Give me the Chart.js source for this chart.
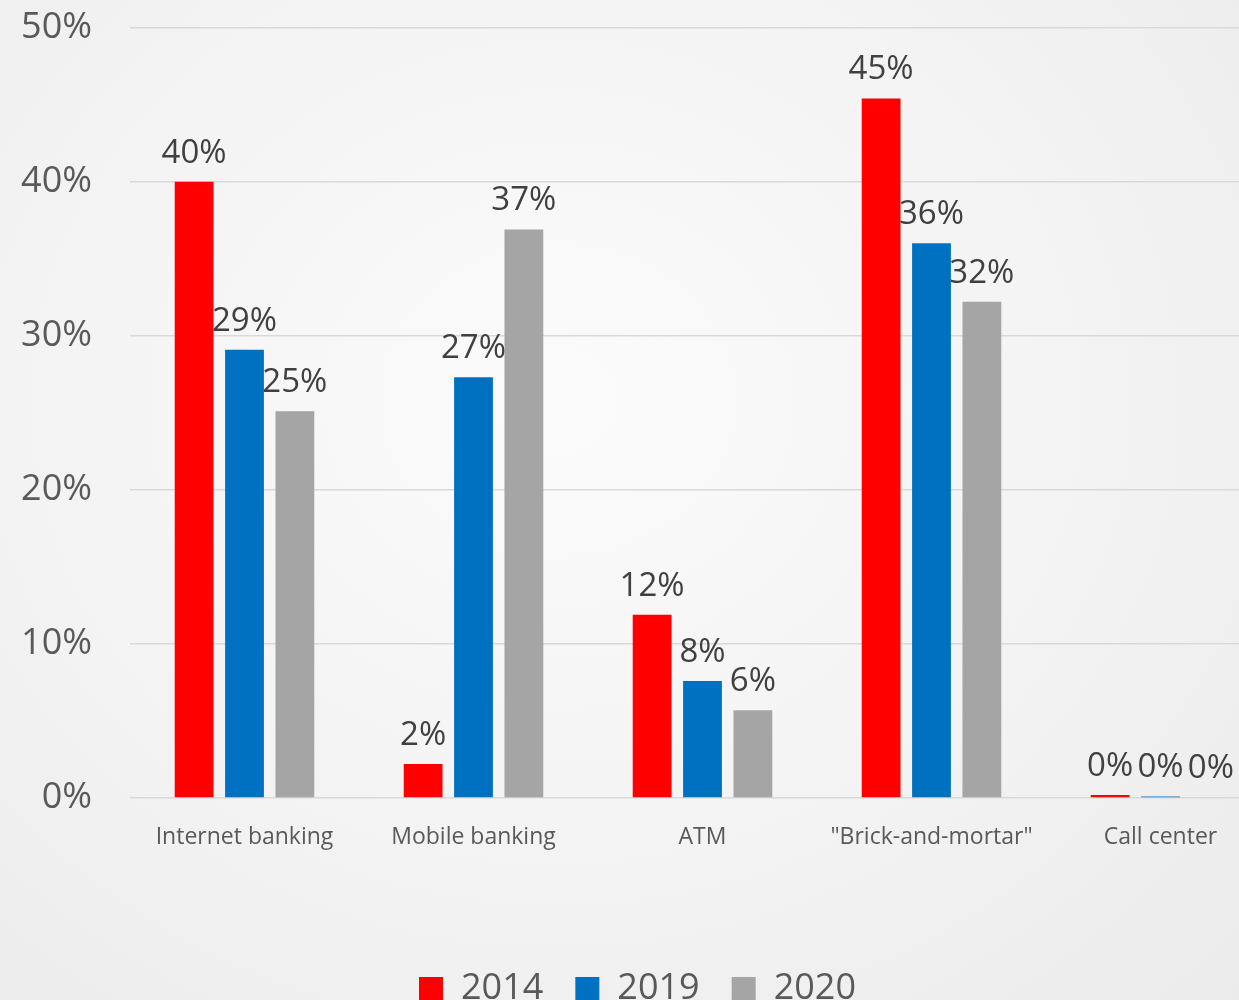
<!DOCTYPE html>
<html>
<head>
<meta charset="utf-8">
<script src="https://cdn.jsdelivr.net/npm/chart.js@4.4.1/dist/chart.umd.min.js"></script>
<style>
  html, body { margin: 0; padding: 0; overflow: hidden; }
  body {
    width: 1239px; height: 1000px;
    background: radial-gradient(ellipse at 45% 40%, #fbfbfb 0%, #f3f3f4 55%, #ebebec 100%);
  }
  #wrap { position: absolute; left: 0; top: -32px; width: 1290px; height: 1049px; }
</style>
</head>
<body>
<div id="wrap"><canvas id="chart" width="1290" height="1049"></canvas></div>
<script>
// chart data
const categories = ['Internet banking', 'Mobile banking', 'ATM', '"Brick-and-mortar"', 'Call center'];
const years = ['2014', '2019', '2020'];
const values2014 = [40, 2.2, 11.9, 45.4, 0.2];
const values2019 = [29.1, 27.3, 7.6, 36.0, 0.1];
const values2020 = [25.1, 36.9, 5.7, 32.2, 0.05];
const yTicks = [0, 10, 20, 30, 40, 50];

const colors = ['#ff0000', '#0070c0', '#a5a5a5'];
const textColor = '#595959';
const fontFamily = '"Open Sans", "Noto Sans", sans-serif';

// draws the % value above each bar
const valueLabels = {
    id: 'valueLabels',
    afterDatasetsDraw(chart) {
        const ctx = chart.ctx;
        ctx.save();
        ctx.font = '33px ' + fontFamily;
        ctx.fillStyle = '#404040';
        ctx.textAlign = 'center';
        ctx.textBaseline = 'alphabetic';
        chart.data.datasets.forEach((ds, i) => {
            const meta = chart.getDatasetMeta(i);
            meta.data.forEach((bar, j) => {
                ctx.fillText(Math.round(ds.data[j]) + '%', bar.x, bar.y - 19);
            });
        });
        ctx.restore();
    }
};

new Chart(document.getElementById('chart').getContext('2d'), {
    type: 'bar',
    data: {
        labels: categories,
        datasets: [
            { label: years[0], data: values2014, backgroundColor: colors[0] },
            { label: years[1], data: values2019, backgroundColor: colors[1] },
            { label: years[2], data: values2020, backgroundColor: colors[2] }
        ]
    },
    options: {
        responsive: false,
        animation: false,
        layout: { padding: { top: 29, right: 15, bottom: 0, left: 0 } },
        datasets: {
            bar: { categoryPercentage: 0.66, barPercentage: 0.77 }
        },
        scales: {
            x: {
                grid: { display: false },
                border: { display: false },
                ticks: {
                    color: textColor,
                    font: { family: fontFamily, size: 23 },
                    padding: 18
                },
                afterFit(scale) { scale.height = 141; }
            },
            y: {
                min: 0,
                max: 50,
                afterBuildTicks(scale) { scale.ticks = yTicks.map(v => ({ value: v })); },
                grid: { color: '#d9d9d9', lineWidth: 1.5, drawTicks: false },
                border: { display: false },
                ticks: {
                    color: textColor,
                    font: { family: fontFamily, size: 36 },
                    padding: 38,
                    callback: v => v + '%'
                },
                afterFit(scale) { scale.width = 130; }
            }
        },
        plugins: {
            legend: {
                position: 'bottom',
                labels: {
                    color: textColor,
                    font: { family: fontFamily, size: 36 },
                    boxWidth: 24,
                    boxHeight: 24,
                    padding: 32
                }
            },
            tooltip: { enabled: false }
        }
    },
    plugins: [valueLabels]
});
</script>
</body>
</html>
